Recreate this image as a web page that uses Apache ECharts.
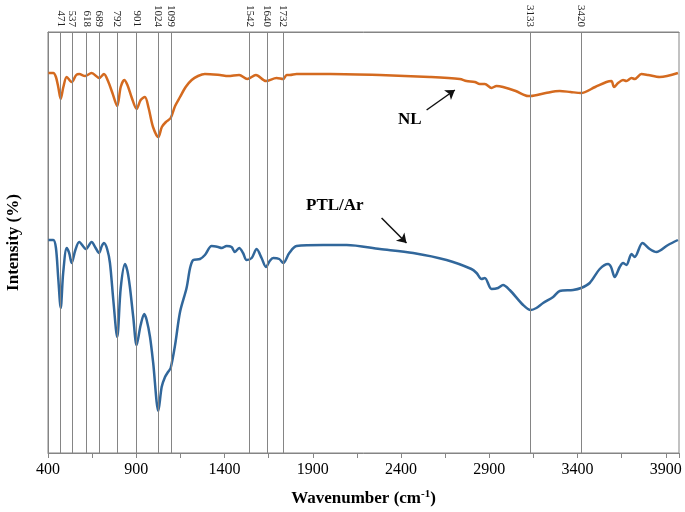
<!DOCTYPE html>
<html>
<head>
<meta charset="utf-8">
<script src="https://cdn.jsdelivr.net/npm/echarts@6/dist/echarts.min.js"></script>
<style>html,body{margin:0;padding:0;background:#fff}#c{width:685px;height:512px}</style>
</head>
<body>
<div id="c"></div>
<script>
// Wavenumber range and tick labels
const xMin = 400, xMax = 3975, xTickStep = 250, xLabelStep = 500;
const peakLines = [471, 537, 618, 689, 792, 901, 1024, 1099, 1542, 1640, 1732, 3133, 3420];

// NL spectrum: [wavenumber, intensity (arbitrary units)]
const nlSpectrum = [[402,380],[430,380],[445,376],[458,366],[472,354],[487,366],[506,376],[534,371],[560,378],[577,379],[610,377],[647,380],[691,375],[717,379],[740,372],[765,360],[792,347],[812,366],[832,373],[850,368],[875,355],[902,344],[925,353],[949,356],[970,345],[995,326],[1025,316],[1045,326],[1068,331],[1095,335],[1120,347],[1148,356],[1180,366],[1214,373],[1250,377],[1289,379],[1374,378],[1420,377],[1483,378],[1529,374],[1578,378],[1635,372],[1695,375],[1733,374],[1752,378],[1770,378],[1808,379],[1827,379],[2000,379],[2280,378],[2563,376],[2733,374],[2771,372],[2818,371],[2846,369],[2875,369],[2913,365],[2941,367],[2978,366],[3050,362],[3120,357],[3134,357],[3220,360],[3299,362],[3360,361],[3420,360],[3500,366],[3564,371],[3592,372],[3607,366],[3630,370],[3658,373],[3677,372],[3706,375],[3724,374],[3762,379],[3800,378],[3866,376],[3969,380]];

// PTL/Ar spectrum
const ptlSpectrum = [[402,213],[430,213],[445,205],[458,175],[472,145],[486,180],[506,205],[520,200],[534,190],[555,203],[577,211],[615,204],[647,211],[670,205],[689,200],[705,207],[717,210],[735,204],[751,190],[770,153],[792,116],[812,165],[836,189],[850,182],[864,166],[883,136],[902,108],[925,128],[945,139],[959,133],[978,116],[996,90],[1025,42],[1044,66],[1063,76],[1080,81],[1095,85],[1120,108],[1148,141],[1185,165],[1205,185],[1223,193],[1261,194],[1289,198],[1327,207],[1364,206],[1384,205],[1412,207],[1440,206],[1459,201],[1483,205],[1505,200],[1525,193],[1554,195],[1582,204],[1610,195],[1635,186],[1656,192],[1676,195],[1710,194],[1733,190],[1767,200],[1808,207],[1959,208],[2092,208],[2280,204],[2469,200],[2658,193],[2799,184],[2828,180],[2856,174],[2875,175],[2913,164],[2950,165],[2978,168],[3016,163],[3092,148],[3135,143],[3167,145],[3205,150],[3262,156],[3299,162],[3375,163],[3420,165],[3469,170],[3526,184],[3573,189],[3590,186],[3611,176],[3639,186],[3658,190],[3677,188],[3706,199],[3724,196],[3768,210],[3809,204],[3847,201],[3913,208],[3969,213]];

// Annotations (data coordinates)
const nlLabel = {name: 'NL', coord: [2450, 333]};
const ptlLabel = {name: 'PTL/Ar', coord: [2025, 247]};
const nlArrow = [[2545, 343], [2705, 363]];
const ptlArrow = [[2290, 235], [2431, 210]];

const serif = '"Liberation Serif", "Times New Roman", serif';
const gray = '#858585';

const chart = echarts.init(document.getElementById('c'), null, {renderer: 'canvas'});
chart.setOption({
  animation: false,
  backgroundColor: '#fff',
  grid: {left: 48, right: 6, top: 32, bottom: 59, show: true, borderColor: gray, borderWidth: 1,
    containLabel: false, outerBoundsMode: 'none'},
  xAxis: [{
    type: 'value', min: xMin, max: xMax, interval: xTickStep,
    name: 'Wavenumber (cm{sup|-1})', nameLocation: 'middle', nameGap: 36,
    nameTextStyle: {fontFamily: serif, fontSize: 17, fontWeight: 'bold', color: '#000',
      rich: {sup: {fontFamily: serif, fontSize: 11, fontWeight: 'bold', color: '#000', verticalAlign: 'top', padding: [0, 0, 8, 0]}}},
    axisLine: {show: true, lineStyle: {color: gray, width: 1}},
    axisTick: {show: true, inside: false, length: 5, lineStyle: {color: gray}},
    splitLine: {show: false},
    axisLabel: {fontFamily: serif, fontSize: 16, color: '#000', margin: 9, hideOverlap: false,
      formatter: v => ((v - xMin) % xLabelStep === 0 ? String(v) : '')}
  }, {
    type: 'value', min: xMin, max: xMax, position: 'top',
    axisLine: {show: true, lineStyle: {color: gray, width: 1}},
    axisTick: {show: false},
    splitLine: {show: false},
    axisLabel: {show: true, customValues: peakLines, rotate: 90, fontFamily: serif, fontSize: 11, color: '#222', margin: 5,
      hideOverlap: false, formatter: v => String(v)}
  }],
  yAxis: {
    type: 'value', min: 0, max: 421,
    name: 'Intensity (%)', nameLocation: 'middle', nameGap: 26,
    nameTextStyle: {fontFamily: serif, fontSize: 17, fontWeight: 'bold', color: '#000'},
    axisLine: {show: true, lineStyle: {color: gray}},
    axisTick: {show: false}, axisLabel: {show: false}, splitLine: {show: false}
  },
  series: [{
    type: 'line', data: [], z: 1, silent: true,
    markLine: {
      silent: true, symbol: ['none', 'none'], animation: false,
      label: {show: false},
      lineStyle: {color: gray, width: 1, type: 'solid'},
      data: peakLines.map(v => ({xAxis: v}))
    }
  }, {
    name: 'NL', type: 'line', data: nlSpectrum, smooth: 0.3, showSymbol: false, z: 3,
    lineStyle: {color: '#D46A1F', width: 2.5}, itemStyle: {color: '#D46A1F'},
    markPoint: {
      symbol: 'circle', symbolSize: 0,
      label: {show: true, position: 'inside', formatter: '{b}', fontFamily: serif, fontSize: 17, fontWeight: 'bold', color: '#000'},
      data: [nlLabel]
    },
    markLine: {
      silent: true, symbol: ['none', 'arrow'], symbolSize: 9, label: {show: false},
      lineStyle: {color: '#111', width: 1.5, type: 'solid'},
      data: [[{coord: nlArrow[0]}, {coord: nlArrow[1]}]]
    }
  }, {
    name: 'PTL/Ar', type: 'line', data: ptlSpectrum, smooth: 0.3, showSymbol: false, z: 3,
    lineStyle: {color: '#31679B', width: 2.5}, itemStyle: {color: '#31679B'},
    markPoint: {
      symbol: 'circle', symbolSize: 0,
      label: {show: true, position: 'inside', formatter: '{b}', fontFamily: serif, fontSize: 17, fontWeight: 'bold', color: '#000'},
      data: [ptlLabel]
    },
    markLine: {
      silent: true, symbol: ['none', 'arrow'], symbolSize: 9, label: {show: false},
      lineStyle: {color: '#111', width: 1.5, type: 'solid'},
      data: [[{coord: ptlArrow[0]}, {coord: ptlArrow[1]}]]
    }
  }]
});
</script>
</body>
</html>
